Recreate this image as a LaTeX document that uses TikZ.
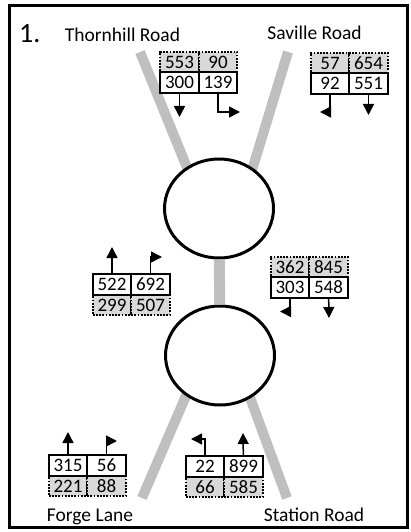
\documentclass[tikz,border=0pt]{standalone}
\usepackage{fontspec}
\setmainfont{Carlito}
\usetikzlibrary{arrows.meta,shapes,positioning}
\tikzset{
    cell/.style={
    rectangle,draw=black,line width=1.8pt,fill=white,
    minimum width=38.5pt,minimum height=20.5pt,inner sep=0pt,
    font=\fontsize{19}{20}\selectfont
    },
    gcell/.style={
    cell,dash pattern=on 1.8pt off 1.4pt,fill=black!15
    },
    road/.style={
    draw=black!25,line width=10pt
    },
    rbout/.style={
    ellipse,draw=black,line width=3pt,fill=white,
    minimum width=109pt,minimum height=99pt
    },
    flow/.style={
    -{Triangle[length=11pt,width=11pt]},line width=1.5pt
    },
    rname/.style={
    anchor=base,font=\fontsize{19.5}{20}\selectfont
    },
}
\begin{document}
\begin{tikzpicture}[x=1pt,y=-1pt,node distance=20.5pt and 38.5pt,on grid]
   \useasboundingbox (0,0) rectangle (410,532);
   \draw[line width=3pt] (9.5,5.5) rectangle (407.5,527);

   \coordinate (thr) at (140,52);
   \coordinate (thc) at (190,175);
   \coordinate (sar) at (288,52);
   \coordinate (sac) at (249,180);
   \coordinate (flr) at (142,498);
   \coordinate (flc) at (190.6,385);
   \coordinate (str) at (287,498);
   \coordinate (stc) at (245.4,385);
  \path
    (thr) edge [road] (thc)
    (sar) edge [road] (sac)
    (flr) edge [road] (flc)
    (str) edge [road] (stc);

   \node[rbout] (up) at (219,208.5) {};
   \node[rbout] (dn) at (220,355.5) {};
  \path (up) edge [road,line width=11pt] (dn);

   \node[font=\fontsize{28}{30}\selectfont,anchor=base west,inner sep=0pt] (num) at (19,43) {1.};
   \node[rname] (thn) at (122.5,41.7) {Thornhill Road};
   \node[rname] (san) at (314.5,40) {Saville Road};
   \node[rname] (fln) at (90,521.5) {Forge Lane};
   \node[rname] (stn) at (314,521.5) {Station Road};

   % Thornhill Road
   \node[gcell] (th1) at (179.5,62) {553};
   \node[gcell,right=of th1] (th2) {90};
   \node[cell,below=of th1] (th3) {300};
   \node[cell,below=of th2] (th4) {139};
   \coordinate (thA) at (179.5,117);
   \coordinate (thB) at (240,112);
  \draw[flow] (th3) -- (thA);
  \draw[flow] (th4.south) |- (thB);

   % Saville Road
   \node[gcell] (sa1) at (330,63) {57};
   \node[gcell,right=of sa1] (sa2) {654};
   \node[cell,below=of sa1] (sa3) {92};
   \node[cell,below=of sa2] (sa4) {551};
   \coordinate (saA) at (320,112);
   \coordinate (saB) at (368.5,115);
  \draw[flow] (sa3.south) |- (saA);
  \draw[flow] (sa4) -- (saB);

   % between the roundabouts
   \node[gcell] (ml3) at (112,305) {299};
   \node[gcell,right=of ml3] (ml4) {507};
   \node[cell,above=of ml3] (ml1) {522};
   \node[cell,above=of ml4] (ml2) {692};
   \coordinate (mlA) at (112,247);
   \coordinate (mlB) at (162,257);
  \draw[flow] (ml1) -- (mlA);
  \draw[flow] (ml2.north) |- (mlB);

   \node[gcell] (mr1) at (290,267) {362};
   \node[gcell,right=of mr1] (mr2) {845};
   \node[cell,below=of mr1] (mr3) {303};
   \node[cell,below=of mr2] (mr4) {548};
   \coordinate (mrA) at (280,311.5);
   \coordinate (mrB) at (329,318);
  \draw[flow] (mr3.south) |- (mrA);
  \draw[flow] (mr4) -- (mrB);

   % Forge Lane
   \node[gcell] (fl3) at (68,486) {221};
   \node[gcell,right=of fl3] (fl4) {88};
   \node[cell,above=of fl3] (fl1) {315};
   \node[cell,above=of fl4] (fl2) {56};
   \coordinate (flA) at (68,432);
   \coordinate (flB) at (117,441);
  \draw[flow] (fl1) -- (flA);
  \draw[flow] (fl2.north) |- (flB);

   % Station Road
   \node[gcell] (st3) at (205,487) {66};
   \node[gcell,right=of st3] (st4) {585};
   \node[cell,above=of st3] (st1) {22};
   \node[cell,above=of st4] (st2) {899};
   \coordinate (stA) at (191,439);
   \coordinate (stB) at (243,433);
  \draw[flow] (st1.north) |- (stA);
  \draw[flow] (st2) -- (stB);
\end{tikzpicture}
\end{document}
